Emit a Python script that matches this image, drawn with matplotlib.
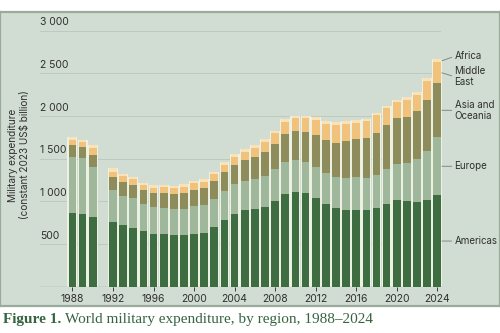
import matplotlib
matplotlib.use("Agg")
import matplotlib.pyplot as plt
import numpy as np

# SIPRI world military expenditure by region, constant 2023 US$ billion (no 1991 data)
years = [1988, 1989, 1990, 1992, 1993, 1994, 1995, 1996, 1997, 1998, 1999,
         2000, 2001, 2002, 2003, 2004, 2005, 2006, 2007, 2008, 2009, 2010,
         2011, 2012, 2013, 2014, 2015, 2016, 2017, 2018, 2019, 2020, 2021,
         2022, 2023, 2024]
americas = [867, 855, 816, 758, 726, 691, 652, 617, 613, 602, 602,
            621, 629, 699, 785, 855, 895, 906, 933, 1004, 1082, 1109,
            1101, 1042, 972, 918, 898, 898, 895, 925, 972, 1012, 1000,
            988, 1012, 1070]
europe = [655, 648, 589, 374, 340, 344, 316, 313, 312, 308, 308,
          324, 328, 328, 336, 344, 343, 351, 363, 374, 375, 371,
          356, 363, 363, 363, 371, 383, 378, 383, 403, 425, 445,
          507, 581, 683]
asia_oceania = [137, 133, 137, 156, 160, 156, 164, 164, 176, 172, 184,
                187, 199, 214, 226, 230, 249, 265, 277, 289, 331, 343,
                358, 371, 383, 405, 437, 449, 472, 492, 518, 542, 546,
                566, 593, 629]
middle_east = [59, 62, 86, 59, 74, 70, 59, 65, 63, 70, 77,
               79, 74, 79, 78, 93, 94, 106, 125, 129, 144, 149,
               157, 176, 191, 207, 203, 191, 195, 207, 196, 180, 195,
               187, 219, 249]
africa = [31, 23, 31, 39, 20, 27, 27, 28, 27, 27, 28,
          27, 31, 27, 32, 32, 31, 31, 32, 31, 32, 27,
          27, 32, 31, 32, 31, 31, 27, 31, 31, 31, 32,
          32, 35, 35]

regions = ["Americas", "Europe", "Asia and\nOceania", "Middle\nEast", "Africa"]
series = [americas, europe, asia_oceania, middle_east, africa]
colors = ["#3e6d42", "#9fb79a", "#8d8c5a", "#f1c27c", "#fbe1b4"]

bg = "#d1ddd2"
text_col = "#2f2f2f"
font = "Inter"
fs = 7.5

fig = plt.figure(figsize=(5, 3.33), dpi=100)

# panel background with top/bottom border
pan = fig.add_axes([0, 1 - 306 / 333, 1, (306 - 12) / 333], zorder=0)
pan.set_facecolor(bg)
pan.set_xticks([])
pan.set_yticks([])
for s in pan.spines.values():
    s.set_color("#9aab9c")
    s.set_linewidth(1.6)

ax = fig.add_axes([40 / 500, 1 - 286.7 / 333, 403 / 500, (286.7 - 30.7) / 333], zorder=1)
ax.set_facecolor("none")
for s in ax.spines.values():
    s.set_visible(False)
ax.set_xlim(1984.8, 2024.56)
ax.set_ylim(0, 3000)

x = np.array(years)
data = np.array(series, dtype=float)
totals = data.sum(axis=0)

# gridlines and y labels sitting above them
for v in range(500, 3001, 500):
    ax.axhline(v, xmax=0.993, color="#bccbbe", linewidth=0.7, zorder=0)
    ax.text(0, v + 40, f"{v // 1000} {v % 1000:03d}" if v >= 1000 else str(v),
            transform=ax.get_yaxis_transform(), ha="left", va="bottom",
            fontsize=fs, color=text_col, family=font)
ax.axhline(0, color="#3a3a3a", linewidth=0.8, zorder=3)

# light strokes between bars
ax.bar(x, totals, width=0.98, color="#edf1e4", linewidth=0, zorder=1)
bottom = np.zeros(len(years))
for vals, c in zip(data, colors):
    ax.bar(x, vals, width=0.76, bottom=bottom, color=c, linewidth=0, zorder=2)
    bottom += vals

ax.set_yticks([])
ax.set_xticks(range(1988, 2025, 4))
ax.tick_params(axis="x", length=3, width=0.7, color="#3a3a3a", pad=2,
               labelsize=fs, labelcolor=text_col)
for lbl in ax.get_xticklabels():
    lbl.set_family(font)

fig.text(0.038, 1 - 155 / 333, "Military expenditure\n(constant 2023 US$ billion)",
         rotation=90, ha="center", va="center", fontsize=7.2, color=text_col,
         family=font, linespacing=1.15)

# region labels on the right of the 2024 bar
last = data[:, -1]
cum = np.cumsum(last)
mids = cum - last / 2
offsets = [0, 0, 0, -45, 50]
for name, m, off in zip(regions, mids, offsets):
    ax.annotate(name, xy=(2024.45, m), xytext=(2025.7, m + off),
                ha="left", va="center", fontsize=7, color=text_col, family=font,
                linespacing=1.1, annotation_clip=False,
                arrowprops=dict(arrowstyle="-", color="#7a7a7a", linewidth=0.6,
                                shrinkA=0, shrinkB=0, relpos=(0, 0.5)))

# caption
cap_col = "#35643f"
cap_y = 1 - 319 / 333
t1 = fig.text(0.006, cap_y, "Figure 1.", ha="left", va="center", fontsize=11,
              fontweight="bold", color=cap_col, family="Liberation Serif")
renderer = fig.canvas.get_renderer()
bb = t1.get_window_extent(renderer).transformed(fig.transFigure.inverted())
fig.text(bb.x1 + 0.008, cap_y, "World military expenditure, by region, 1988\u20132024",
         ha="left", va="center", fontsize=11, color=cap_col, family="Liberation Serif")

fig.savefig("out.png", dpi=100)
